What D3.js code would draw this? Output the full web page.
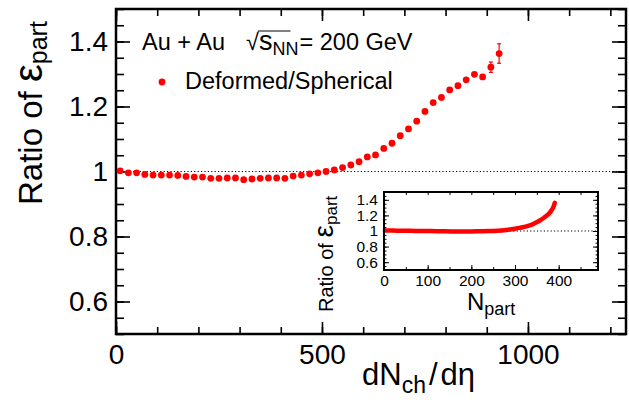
<!DOCTYPE html>
<html>
<head>
<meta charset="utf-8">
<script src="https://cdn.jsdelivr.net/npm/d3@7"></script>
<style>
  body { margin: 0; background: #fff; }
  svg { display: block; }
  text { font-family: "Liberation Sans", Arial, sans-serif; fill: #000; }
</style>
</head>
<body>
<div id="chart"></div>
<script>
// main panel: ratio of participant eccentricity vs dNch/deta
const dNdEta = [10, 30, 50, 70, 90, 110, 130, 150, 170, 190, 210, 230, 250, 270, 290, 310,
  330, 350, 370, 390, 410, 430, 450, 470, 490, 510, 530, 550, 570, 590, 610, 630,
  650, 670, 690, 710, 730, 750, 770, 790, 810, 830, 850, 870, 890, 910, 930];
const ratio = [1.002, 0.996, 0.996, 0.991, 0.989, 0.989, 0.989, 0.988, 0.985, 0.983, 0.983, 0.979,
  0.979, 0.980, 0.980, 0.975, 0.977, 0.979, 0.980, 0.980, 0.979, 0.986, 0.989, 0.993,
  0.996, 1.000, 1.005, 1.012, 1.020, 1.030, 1.045, 1.051, 1.071, 1.087, 1.110, 1.131,
  1.155, 1.185, 1.212, 1.228, 1.251, 1.264, 1.282, 1.299, 1.291, 1.321, 1.363];
const ratioErr = [0.002, 0.002, 0.002, 0.002, 0.002, 0.002, 0.002, 0.002, 0.002, 0.002, 0.002, 0.002,
  0.002, 0.002, 0.002, 0.002, 0.002, 0.002, 0.002, 0.002, 0.002, 0.002, 0.002, 0.002,
  0.002, 0.002, 0.002, 0.002, 0.003, 0.003, 0.003, 0.003, 0.003, 0.003, 0.003, 0.004,
  0.004, 0.004, 0.004, 0.005, 0.005, 0.005, 0.006, 0.006, 0.008, 0.016, 0.030];

// inset: same ratio vs Npart
const nPart = [2, 20, 40, 60, 80, 100, 120, 140, 160, 180, 200, 220, 240, 260, 280, 300,
  310, 320, 330, 340, 350, 360, 370, 378, 384, 388, 391];
const nPartRatio = [1.006, 1.005, 1.004, 1.002, 1.000, 0.999, 0.997, 0.996, 0.995, 0.995, 0.995,
  0.997, 0.999, 1.004, 1.014, 1.030, 1.040, 1.052, 1.066, 1.085, 1.113, 1.145, 1.185,
  1.225, 1.270, 1.310, 1.360];

const mainXTicks = [0, 500, 1000];
const mainYTicks = [0.6, 0.8, 1, 1.2, 1.4];
const insetXTicks = [0, 100, 200, 300, 400];
const insetYTicks = [0.6, 0.8, 1, 1.2, 1.4];

const width = 629;
const height = 400;
const red = '#ff0000';

const svg = d3.select('#chart').append('svg')
  .attr('width', width)
  .attr('height', height);

// ---------- main frame ----------
const x = d3.scaleLinear().domain([0, 1238]).range([116, 626]);
const y = d3.scaleLinear().domain([0.5, 1.5]).range([334, 9]);
const fmt = d3.format('');

function tickAxis(g, axis, fontSize) {
  g.call(axis);
  g.select('.domain').remove();
  g.selectAll('line').attr('stroke', '#000').attr('stroke-width', 1.6);
  g.selectAll('text').attr('font-size', fontSize).attr('fill', '#000');
}

// minor ticks
const mainMinor = svg.append('g');
mainMinor.append('g').attr('transform', `translate(${x.range()[0]},0)`)
  .call(g => tickAxis(g, d3.axisLeft(y).tickValues(y.ticks(20)).tickSize(-8).tickFormat(''), 0));
mainMinor.append('g').attr('transform', `translate(${x.range()[1]},0)`)
  .call(g => tickAxis(g, d3.axisRight(y).tickValues(y.ticks(20)).tickSize(-8).tickFormat(''), 0));
mainMinor.append('g').attr('transform', `translate(0,${y.range()[0]})`)
  .call(g => tickAxis(g, d3.axisBottom(x).tickValues(x.ticks(12)).tickSize(-7).tickFormat(''), 0));
mainMinor.append('g').attr('transform', `translate(0,${y.range()[1]})`)
  .call(g => tickAxis(g, d3.axisTop(x).tickValues(x.ticks(12)).tickSize(-7).tickFormat(''), 0));

// major ticks with labels
svg.append('g').attr('transform', `translate(${x.range()[0]},0)`)
  .call(g => tickAxis(g, d3.axisLeft(y).tickValues(mainYTicks).tickSize(-14).tickPadding(8).tickFormat(fmt), 28));
svg.append('g').attr('transform', `translate(${x.range()[1]},0)`)
  .call(g => tickAxis(g, d3.axisRight(y).tickValues(mainYTicks).tickSize(-14).tickFormat(''), 0));
svg.append('g').attr('transform', `translate(0,${y.range()[0]})`)
  .call(g => tickAxis(g, d3.axisBottom(x).tickValues(mainXTicks).tickSize(-12).tickPadding(10).tickFormat(fmt), 28));
svg.append('g').attr('transform', `translate(0,${y.range()[1]})`)
  .call(g => tickAxis(g, d3.axisTop(x).tickValues(mainXTicks).tickSize(-12).tickFormat(''), 0));

svg.append('rect')
  .attr('x', x.range()[0]).attr('y', y.range()[1])
  .attr('width', x.range()[1] - x.range()[0])
  .attr('height', y.range()[0] - y.range()[1])
  .attr('fill', 'none').attr('stroke', '#000').attr('stroke-width', 2.5);

// reference line at 1
svg.append('line')
  .attr('x1', x.range()[0]).attr('x2', x.range()[1])
  .attr('y1', y(1)).attr('y2', y(1))
  .attr('stroke', '#000').attr('stroke-width', 1).attr('stroke-dasharray', '1.2,2.2');

// data points and error bars
const points = dNdEta.map((d, i) => ({ x: d, y: ratio[i], e: ratioErr[i] }));
const bars = svg.append('g').attr('stroke', red).attr('stroke-width', 1.2);
points.filter(d => y(d.y - d.e) - y(d.y + d.e) > 7).forEach(d => {
  bars.append('line').attr('x1', x(d.x)).attr('x2', x(d.x)).attr('y1', y(d.y - d.e)).attr('y2', y(d.y + d.e));
  bars.append('line').attr('x1', x(d.x) - 2).attr('x2', x(d.x) + 2).attr('y1', y(d.y - d.e)).attr('y2', y(d.y - d.e));
  bars.append('line').attr('x1', x(d.x) - 2).attr('x2', x(d.x) + 2).attr('y1', y(d.y + d.e)).attr('y2', y(d.y + d.e));
});
svg.append('g').selectAll('circle')
  .data(points)
  .enter()
  .append('circle')
  .attr('cx', d => x(d.x))
  .attr('cy', d => y(d.y))
  .attr('r', 3.4)
  .attr('fill', red);

// axis titles
const yTitle = svg.append('text')
  .attr('transform', 'translate(42,205) rotate(-90)')
  .attr('font-size', 33);
yTitle.append('tspan').text('Ratio of ');
yTitle.append('tspan').attr('font-size', 40).text('ε');
yTitle.append('tspan').attr('font-size', 25).attr('dy', 5).text('part');

const xTitle = svg.append('text')
  .attr('x', 362).attr('y', 385)
  .attr('font-size', 31);
xTitle.append('tspan').text('dN');
xTitle.append('tspan').attr('font-size', 23).attr('dy', 8).text('ch');
xTitle.append('tspan').attr('dy', -8).attr('dx', 3).text('/');
xTitle.append('tspan').attr('dx', 3).text('dη');

// legend
const legendSize = 23.5;
svg.append('text').attr('x', 142).attr('y', 50).attr('font-size', legendSize).text('Au + Au');
const root = svg.append('text').attr('x', 246).attr('y', 50).attr('font-size', legendSize).text('√');
const rootBox = root.node().getBBox();
const sText = svg.append('text').attr('x', rootBox.x + rootBox.width).attr('y', 50).attr('font-size', legendSize);
sText.append('tspan').attr('font-size', 27).text('s');
sText.append('tspan').attr('font-size', 18).attr('dy', 5).text('NN');
const sBox = sText.node().getBBox();
svg.append('line')
  .attr('x1', rootBox.x + rootBox.width - 1).attr('x2', sBox.x + sBox.width - 8)
  .attr('y1', rootBox.y + 2).attr('y2', rootBox.y + 2)
  .attr('stroke', '#000').attr('stroke-width', 1.2);
svg.append('text').attr('x', sBox.x + sBox.width + 1).attr('y', 50).attr('font-size', legendSize).text('= 200 GeV');

svg.append('circle').attr('cx', 162).attr('cy', 82).attr('r', 3.4).attr('fill', red);
svg.append('text').attr('x', 185).attr('y', 89).attr('font-size', legendSize).text('Deformed/Spherical');

// ---------- inset ----------
const xi = d3.scaleLinear().domain([0, 490]).range([384, 598]);
const yi = d3.scaleLinear().domain([0.5, 1.5]).range([270, 192]);

const inset = svg.append('g');
inset.append('rect')
  .attr('x', xi.range()[0]).attr('y', yi.range()[1])
  .attr('width', xi.range()[1] - xi.range()[0])
  .attr('height', yi.range()[0] - yi.range()[1])
  .attr('fill', '#fff');

inset.append('line')
  .attr('x1', xi.range()[0]).attr('x2', xi.range()[1])
  .attr('y1', yi(1)).attr('y2', yi(1))
  .attr('stroke', '#000').attr('stroke-width', 1).attr('stroke-dasharray', '1.2,2.2');

inset.append('g').attr('transform', `translate(${xi.range()[0]},0)`)
  .call(g => tickAxis(g, d3.axisLeft(yi).tickValues(yi.ticks(20)).tickSize(-2.5).tickFormat(''), 0));
inset.append('g').attr('transform', `translate(${xi.range()[1]},0)`)
  .call(g => tickAxis(g, d3.axisRight(yi).tickValues(yi.ticks(20)).tickSize(-2.5).tickFormat(''), 0));
inset.append('g').attr('transform', `translate(${xi.range()[0]},0)`)
  .call(g => tickAxis(g, d3.axisLeft(yi).tickValues(insetYTicks).tickSize(-5).tickPadding(6).tickFormat(fmt), 15.5));
inset.append('g').attr('transform', `translate(${xi.range()[1]},0)`)
  .call(g => tickAxis(g, d3.axisRight(yi).tickValues(insetYTicks).tickSize(-5).tickFormat(''), 0));
inset.append('g').attr('transform', `translate(0,${yi.range()[0]})`)
  .call(g => tickAxis(g, d3.axisBottom(xi).tickValues(xi.ticks(10)).tickSize(-3).tickFormat(''), 0));
inset.append('g').attr('transform', `translate(0,${yi.range()[1]})`)
  .call(g => tickAxis(g, d3.axisTop(xi).tickValues(xi.ticks(10)).tickSize(-3).tickFormat(''), 0));
inset.append('g').attr('transform', `translate(0,${yi.range()[0]})`)
  .call(g => tickAxis(g, d3.axisBottom(xi).tickValues(insetXTicks).tickSize(-5).tickPadding(5).tickFormat(fmt), 15.5));
inset.selectAll('line').attr('stroke-width', 1);

inset.append('path')
  .datum(nPart.map((d, i) => [d, nPartRatio[i]]))
  .attr('d', d3.line().x(d => xi(d[0])).y(d => yi(d[1])).curve(d3.curveMonotoneX))
  .attr('fill', 'none')
  .attr('stroke', red)
  .attr('stroke-width', 4.5)
  .attr('stroke-linecap', 'round');

inset.append('rect')
  .attr('x', xi.range()[0]).attr('y', yi.range()[1])
  .attr('width', xi.range()[1] - xi.range()[0])
  .attr('height', yi.range()[0] - yi.range()[1])
  .attr('fill', 'none').attr('stroke', '#000').attr('stroke-width', 2);

const iyTitle = inset.append('text')
  .attr('transform', 'translate(333,312) rotate(-90)')
  .attr('font-size', 20);
iyTitle.append('tspan').text('Ratio of  ');
iyTitle.append('tspan').attr('font-size', 28).text('ε');
iyTitle.append('tspan').attr('font-size', 17).attr('dy', 4).text('part');

const ixTitle = inset.append('text')
  .attr('x', 467).attr('y', 310)
  .attr('font-size', 24);
ixTitle.append('tspan').text('N');
ixTitle.append('tspan').attr('font-size', 18).attr('dy', 5).text('part');
</script>
</body>
</html>
